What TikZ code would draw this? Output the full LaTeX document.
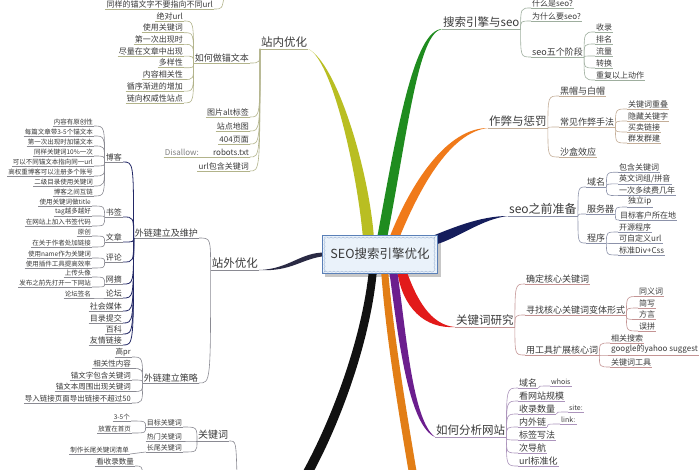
\documentclass[tikz,border=0pt]{standalone}
\usepackage{fontspec}
\newfontfamily\cjk{Noto Sans CJK SC}
\usetikzlibrary{calc, backgrounds, decorations.pathmorphing}

\definecolor{txt}{HTML}{3A3A3A}
\definecolor{boxfill}{HTML}{EAF2FA}
\definecolor{boxline}{HTML}{5A80B8}
\definecolor{olivec}{HTML}{B9BE22}
\definecolor{olivel}{HTML}{B2B38A}
\definecolor{greenc}{HTML}{1F8C1F}
\definecolor{greenl}{HTML}{9EAE9E}
\definecolor{orangec}{HTML}{F07A1A}
\definecolor{orangel}{HTML}{C4AE98}
\definecolor{navyc}{HTML}{151D5C}
\definecolor{navyl}{HTML}{8C92AA}
\definecolor{redc}{HTML}{E21A1A}
\definecolor{redl}{HTML}{C49494}
\definecolor{purplec}{HTML}{6C1E8E}
\definecolor{purplel}{HTML}{AC94BC}
\definecolor{orangeb}{HTML}{E27E16}
\definecolor{blackc}{HTML}{111111}
\definecolor{darkc}{HTML}{2A2A44}
\definecolor{grayl}{HTML}{8A8A92}
\definecolor{spine}{HTML}{232866}

\tikzset{
  bigtxt/.style={font=\cjk\fontsize{11.5}{12}\selectfont, text=txt, inner sep=1pt},
  midtxt/.style={font=\cjk\fontsize{9}{10}\selectfont, text=txt, inner sep=1pt},
  leaftxt/.style={font=\cjk\fontsize{8}{9}\selectfont, text=txt, inner sep=1pt},
  smtxt/.style={font=\cjk\fontsize{7.5}{8}\selectfont, text=txt, inner sep=1pt},
  tntxt/.style={font=\cjk\fontsize{6.5}{7}\selectfont, text=txt, inner sep=1pt},
  lnk/.style={draw=grayl, line width=0.6pt},
  ul/.style={append after command={(\tikzlastnode.south west) edge[lnk] (\tikzlastnode.south east)}},
}

\begin{document}
\begin{tikzpicture}[x=1pt, y=-1pt]
  \useasboundingbox (0,0) rectangle (700,470);

  % --- center ---
  \node[draw=boxline, line width=1pt, fill=boxfill, minimum width=115pt, minimum height=38pt,
        font=\cjk\fontsize{12.5}{13}\selectfont, text=txt] (seo) at (380,254) {SEO搜索引擎优化};
  \draw[boxline!60, decorate, decoration={snake, amplitude=0.6pt, segment length=4pt}]
    ([shift={(2.5,2.5)}]seo.north west) rectangle ([shift={(-2.5,-2.5)}]seo.south east);

  % --- 站内优化 ---
  \begin{scope}[lnk/.style={draw=olivel, line width=0.6pt}]
    \node[bigtxt, ul, anchor=south west] (zn) at (260,49) {站内优化};
    \node[midtxt, ul, anchor=south east] (za) at (250,63) {如何做锚文本};
    \draw[lnk] (zn.south west) .. controls (zn.south west |- za.south east) .. (za.south east);
    \foreach \t [count=\i] in {绝对url, 使用关键词, 第一次出现时, 尽量在文章中出现, 多样性, 内容相关性, 循序渐进的增加, 链向权威性站点}
    {
      \node[leaftxt, ul, anchor=south east] (ma\i) at (184,9.3+11.7*\i) {\t};
      \draw[lnk] (za.south west) .. controls (za.south west |- ma\i.south east) .. (ma\i.south east);
    }
    \foreach \t/\y [count=\i] in {图片alt标签/117, 站点地图/131, 404页面/144, robots.txt/157, url包含关键词/171}
    {
      \node[leaftxt, ul, anchor=south east] (mz\i) at (250,\y) {\t};
      \draw[lnk] (zn.south west) .. controls (zn.south west |- mz\i.south east) .. (mz\i.south east);
    }
    \node[leaftxt, text=gray, ul, anchor=south east] (dl) at (200,157) {Disallow:};
    \draw[lnk] (dl.south east) -- (mz4.south west);
    % top row, parent is off the picture
    \node[leaftxt, ul, anchor=south east] (mt) at (214,9) {同样的锚文字不要指向不同url};
    \coordinate (mtop) at (224,-3);
    \draw[lnk] (mt.south east) .. controls (222,9) .. (mtop);
  \end{scope}

  % --- 搜索引擎与seo ---
  \begin{scope}[lnk/.style={draw=greenl, line width=0.6pt}]
    \node[bigtxt, ul, anchor=south west] (ss) at (442,29) {搜索引擎与seo};
    \node[leaftxt, ul, anchor=south west] (sa1) at (531,8) {什么是seo?};
    \node[leaftxt, ul, anchor=south west] (sa2) at (531,21) {为什么要seo?};
    \node[midtxt, ul, anchor=south west] (sa3) at (531,57) {seo五个阶段};
    \foreach \n in {sa1, sa2, sa3}
      \draw[lnk] (ss.south east) .. controls (ss.south east |- \n.south west) .. (\n.south west);
    \foreach \t [count=\i] in {收录, 排名, 流量, 转换, 重复以上动作}
    {
      \node[leaftxt, ul, anchor=south west] (sb\i) at (595,20+12*\i) {\t};
      \draw[lnk] (sa3.south east) .. controls (sa3.south east |- sb\i.south west) .. (sb\i.south west);
    }
  \end{scope}

  % --- 作弊与惩罚 ---
  \begin{scope}[lnk/.style={draw=orangel, line width=0.6pt}]
    \node[bigtxt, ul, anchor=south west] (zb) at (488,128) {作弊与惩罚};
    \foreach \t/\y [count=\i] in {黑帽与白帽/96, 常见作弊手法/127, 沙盒效应/157}
    {
      \node[midtxt, ul, anchor=south west] (zc\i) at (559,\y) {\t};
      \draw[lnk] (zb.south east) .. controls (zb.south east |- zc\i.south west) .. (zc\i.south west);
    }
    \foreach \t/\y [count=\i] in {关键词重叠/109, 隐藏关键字/121, 买卖链接/132, 群发群建/143}
    {
      \node[leaftxt, ul, anchor=south west] (zd\i) at (627,\y) {\t};
      \draw[lnk] (zc2.south east) .. controls (zc2.south east |- zd\i.south west) .. (zd\i.south west);
    }
  \end{scope}

  % --- seo之前准备 ---
  \begin{scope}[lnk/.style={draw=navyl, line width=0.6pt}]
    \node[bigtxt, font=\cjk\fontsize{12}{13}\selectfont, ul, anchor=south west] (zq) at (508,216) {seo之前准备};
    \foreach \t/\y [count=\i] in {域名/187, 服务器/214, 程序/243}
    {
      \node[midtxt, ul, anchor=south west] (zr\i) at (586,\y) {\t};
      \draw[lnk] (zq.south east) .. controls (zq.south east |- zr\i.south west) .. (zr\i.south west);
    }
    \foreach \t [count=\i] in {包含关键词, 英文词组/拼音, 一次多续费几年}
    {
      \node[leaftxt, ul, anchor=south west] (zs\i) at (618,160.5+11.7*\i) {\t};
      \draw[lnk] (zr1.south east) .. controls (zr1.south east |- zs\i.south west) .. (zs\i.south west);
    }
    \foreach \t/\x/\y [count=\i] in {独立ip/627/207, 目标客户所在地/619/220}
    {
      \node[leaftxt, ul, anchor=south west] (zt\i) at (\x,\y) {\t};
      \draw[lnk] (zr2.south east) .. controls (zr2.south east |- zt\i.south west) .. (zt\i.south west);
    }
    \foreach \t [count=\i] in {开源程序, 可自定义url, 标准Div+Css}
    {
      \node[leaftxt, ul, anchor=south west] (zu\i) at (618,220.5+11.5*\i) {\t};
      \draw[lnk] (zr3.south east) .. controls (zr3.south east |- zu\i.south west) .. (zu\i.south west);
    }
  \end{scope}

  % --- 关键词研究 ---
  \begin{scope}[lnk/.style={draw=redl, line width=0.6pt}]
    \node[bigtxt, ul, anchor=south west] (gy) at (455,327) {关键词研究};
    \foreach \t/\y [count=\i] in {确定核心关键词/284, 寻找核心关键词变体形式/315, 用工具扩展核心词/355}
    {
      \node[midtxt, ul, anchor=south west] (gz\i) at (525,\y) {\t};
      \draw[lnk] (gy.south east) .. controls (gy.south east |- gz\i.south west) .. (gz\i.south west);
    }
    \foreach \t [count=\i] in {同义词, 简写, 方言, 误拼}
    {
      \node[leaftxt, ul, anchor=south west] (ga\i) at (638,285+11.5*\i) {\t};
      \draw[lnk] (gz2.south east) .. controls (gz2.south east |- ga\i.south west) .. (ga\i.south west);
    }
    \foreach \t [count=\i] in {相关搜索, google的yahoo suggest, 关键词工具}
    {
      \node[leaftxt, ul, anchor=south west] (gb\i) at (610,331+12*\i) {\t};
      \draw[lnk] (gz3.south east) .. controls (gz3.south east |- gb\i.south west) .. (gb\i.south west);
    }
  \end{scope}

  % --- 如何分析网站 ---
  \begin{scope}[lnk/.style={draw=purplel, line width=0.6pt}]
    \node[bigtxt, ul, anchor=south west] (fx) at (435,437) {如何分析网站};
    \foreach \t [count=\i] in {域名, 看网站规模, 收录数量, 内外链, 标签写法, 次导航, url标准化}
    {
      \node[midtxt, ul, anchor=south west] (fy\i) at (518,375+13*\i) {\t};
      \draw[lnk] (fx.south east) .. controls (fx.south east |- fy\i.south west) .. (fy\i.south west);
    }
    \foreach \p/\t/\x/\y in {1/whois/550/386, 3/site:/568/412, 4/link:/560/424}
    {
      \node[tntxt, font=\cjk\fontsize{7}{8}\selectfont, ul, anchor=south west] (fz\p) at (\x,\y) {\t};
      \draw[lnk] (fy\p.south east) .. controls (fy\p.south east |- fz\p.south west) .. (fz\p.south west);
    }
  \end{scope}

  % --- 站外优化 ---
  \begin{scope}[lnk/.style={draw=grayl, line width=0.6pt}]
    \node[bigtxt, ul, anchor=south east] (zw) at (259,270) {站外优化};
    \node[midtxt, ul, anchor=south east] (wh) at (199,238) {外链建立及维护};
    \node[midtxt, ul, anchor=south east] (cl) at (199,383) {外链建立策略};
    \foreach \n in {wh, cl}
      \draw[lnk] (zw.south west) .. controls (zw.south west |- \n.south east) .. (\n.south east);
    % 外链建立及维护
    \foreach \t/\y [count=\i] in {博客/162, 书签/217, 文章/242, 评论/262, 网摘/284, 论坛/298, 社会媒体/311, 目录提交/323, 百科/334, 友情链接/345}
    {
      \node[leaftxt, ul, anchor=south east] (wk\i) at (123,\y) {\t};
      \draw[lnk, draw=spine, line width=0.8pt] (wh.south west) .. controls (wh.south west |- wk\i.south east) .. (wk\i.south east);
    }
    \foreach \t [count=\i] in {内容有原创性, 每篇文章带3-5个锚文本, 第一次出现时加锚文本, 同样关键词10\%一次, 可以不同锚文本指向同一url, 高权重博客可以注册多个账号, 二级目录使用关键词, 博客之间互链}
    {
      \node[tntxt, ul, anchor=south east] (bk\i) at (94,116+10*\i) {\t};
      \draw[lnk] (wk1.south west) .. controls (wk1.south west |- bk\i.south east) .. (bk\i.south east);
    }
    \foreach \p/\t/\y in {2/使用关键词做title/206, 2/tag越多越好/216, 2/在网站上加入书签代码/226,
        3/原创/236, 3/在关于作者处加链接/247, 4/使用name作为关键词/258, 4/使用插件工具提高效率/268,
        5/上传头像/277, 5/发布之前先打开一下网站/287, 6/论坛签名/298}
    {
      \node[tntxt, ul, anchor=south east] (q\p\y) at (92,\y) {\t};
      \draw[lnk] (wk\p.south west) .. controls (wk\p.south west |- q\p\y.south east) .. (q\p\y.south east);
    }
    % 外链建立策略
    \foreach \t [count=\i] in {高pr, 相关性内容, 锚文字包含关键词, 锚文本周围出现关键词, 导入链接页面导出链接不超过50}
    {
      \node[smtxt, ul, anchor=south east] (cs\i) at (132,345.5+11.5*\i) {\t};
      \draw[lnk] (cl.south west) .. controls (cl.south west |- cs\i.south east) .. (cs\i.south east);
    }
  \end{scope}

  % --- 关键词 (parent below the picture) ---
  \begin{scope}[lnk/.style={draw=grayl, line width=0.6pt}]
    \node[midtxt, font=\cjk\fontsize{10}{11}\selectfont, ul, anchor=south west] (gj) at (197,441) {关键词};
    \coordinate (gjdown) at (237,476);
    \draw[lnk] (gj.south east) .. controls (236,441) .. (gjdown);
    \foreach \t/\y [count=\i] in {目标关键词/427, 热门关键词/441, 长尾关键词/452}
    {
      \node[smtxt, font=\cjk\fontsize{7}{8}\selectfont, ul, anchor=south east] (gk\i) at (183,\y) {\t};
      \draw[lnk] (gj.south west) .. controls (gj.south west |- gk\i.south east) .. (gk\i.south east);
    }
    \node[tntxt, ul, anchor=south east] (gm1) at (131,421) {3-5个};
    \node[tntxt, ul, anchor=south east] (gm2) at (132,433) {放置在首页};
    \node[tntxt, ul, anchor=south east] (gm3) at (130,454) {制作长尾关键词清单};
    \foreach \n in {gm1, gm2}
      \draw[lnk] (gk1.south west) .. controls (gk1.south west |- \n.south east) .. (\n.south east);
    \draw[lnk] (gk3.south west) -- (gm3.south east);
    \node[smtxt, ul, anchor=south east] (gm4) at (135,466) {看收录数量};
    \coordinate (gmdown) at (143,476);
    \draw[lnk] (gm4.south east) .. controls (142,466) .. (gmdown);
  \end{scope}

  % --- branches ---
  \begin{scope}[on background layer]
    \fill[white] (0,0) rectangle (700,470);
    \fill[black!22] ($(seo.north west)+(3,3)$) rectangle ($(seo.south east)+(3,3)$);
    \coordinate (ob) at (414,480);
    \coordinate (bb) at (304,480);
    % 站内优化
    \fill[olivec] ($(seo.north)+(-17,4)$) .. controls (357,170) and (332,60) .. (zn.south east)
      .. controls (337,64) and (369,170) .. ($(seo.north)+(-6,4)$) -- cycle;
    % 搜索引擎与seo
    \fill[greenc] ($(seo.north)+(-3,4)$) .. controls (397,130) and (414,30) .. (ss.south west)
      .. controls (418,33) and (408,130) .. ($(seo.north)+(7,4)$) -- cycle;
    % 作弊与惩罚
    \fill[orangec] ($(seo.north)+(9,4)$) .. controls (412,180) and (448,128) .. (zb.south west)
      .. controls (452,132) and (422,182) .. ($(seo.north)+(19,4)$) -- cycle;
    % seo之前准备
    \fill[navyc] ($(seo.north east)+(-12,4)$) .. controls (452,228) and (480,216) .. (zq.south west)
      .. controls (482,219) and (460,237) .. ($(seo.north east)+(-2,10)$) -- cycle;
    % 关键词研究
    \fill[redc] ($(seo.south)+(17,-4)$) .. controls (402,308) and (425,329) .. (gy.south west)
      .. controls (430,325) and (416,298) .. ($(seo.south)+(26,-4)$) -- cycle;
    % 如何分析网站
    \fill[purplec] ($(seo.south)+(9,-4)$) .. controls (398,335) and (408,425) .. (fx.south west)
      .. controls (412,420) and (406,330) .. ($(seo.south)+(17,-4)$) -- cycle;
    % orange, label below the picture
    \fill[orangeb] ($(seo.south)+(1,-4)$) .. controls (386,340) and (400,420) .. ($(ob)+(-4,0)$)
      -- ($(ob)+(4,0)$) .. controls (408,420) and (394,340) .. ($(seo.south)+(8,-4)$) -- cycle;
    % black, label below the picture
    \fill[blackc] ($(seo.south)+(-11,-4)$) .. controls (362,340) and (330,425) .. ($(bb)+(-6,0)$)
      -- ($(bb)+(5,0)$) .. controls (340,425) and (371,340) .. ($(seo.south)+(-3,-4)$) -- cycle;
    % 站外优化
    \fill[darkc] ($(seo.west)+(4,-1.5)$) .. controls (300,252) and (290,269) .. (zw.south east)
      .. controls (292,272) and (302,258) .. ($(seo.west)+(4,2)$) -- cycle;
  \end{scope}
\end{tikzpicture}
\end{document}
